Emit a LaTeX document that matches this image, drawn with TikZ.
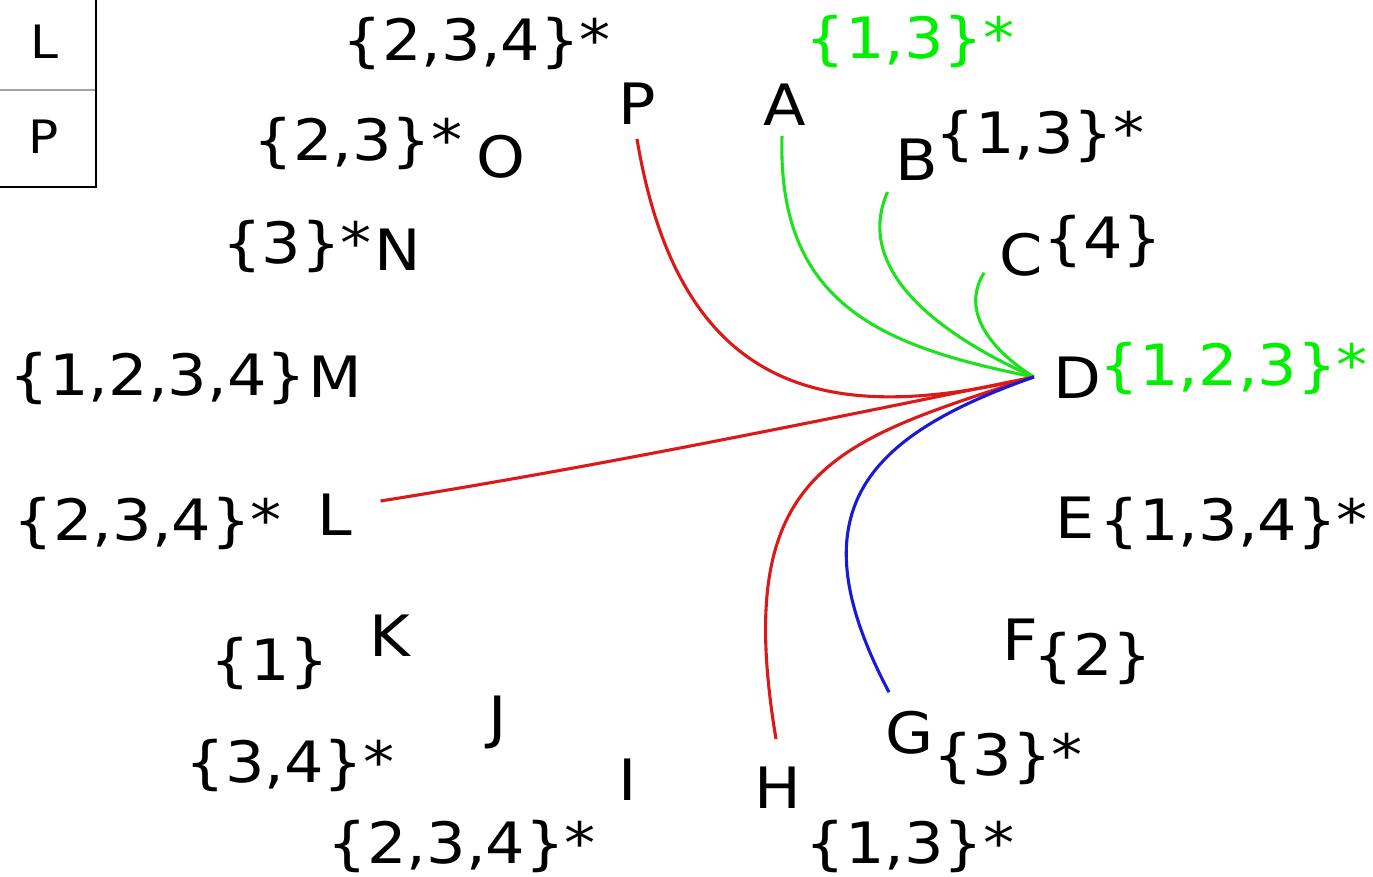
\documentclass[tikz,border=0pt]{standalone}
\usepackage{fontspec}
\setmainfont[FakeStretch=1.09]{DejaVu Sans}
\usetikzlibrary{positioning}
\definecolor{setgreen}{RGB}{0,240,0}
\definecolor{edgegreen}{RGB}{30,225,30}
\definecolor{edgered}{RGB}{220,25,25}
\definecolor{edgeblue}{RGB}{25,25,215}

\begin{document}
\begin{tikzpicture}[
      x=1pt,y=-1pt,
      vertex/.style={font=\fontsize{57}{60}\selectfont,inner sep=0pt},
      setlab/.style={font=\fontsize{57}{60}\selectfont,inner sep=0pt},
      legend/.style={font=\fontsize{46}{48}\selectfont,inner sep=0pt},
      edge/.style={line width=3.1pt}
    ]
    \clip (0,0) rectangle (1373,877);
    \useasboundingbox (0,0) rectangle (1373,877);

    \draw[line width=1.8pt] (-5,-5) rectangle (96,187);
    \draw[gray!70,line width=1.2pt] (0,90) -- (95,90);
    \node[legend] (legL) at (44,42) {L};
    \node[legend] (legP) at (44,137) {P};

    \node[vertex] (A) at (785,105) {A};
    \node[vertex] (B) at (917,160) {B};
    \node[vertex] (C) at (1021,255) {C};
    \node[vertex] (D) at (1077,378) {D};
    \node[vertex] (E) at (1075,518) {E};
    \node[vertex] (F) at (1020,640) {F};
    \node[vertex] (G) at (910,733) {G};
    \node[vertex] (H) at (778,788) {H};
    \node[vertex] (I) at (628,780) {I};
    \node[vertex] (J) at (498,722) {J};
    \node[vertex] (K) at (390,636) {K};
    \node[vertex] (L) at (335,515) {L};
    \node[vertex] (M) at (335,377) {M};
    \node[vertex] (N) at (398,250) {N};
    \node[vertex] (O) at (501,157) {O};
    \node[vertex] (P) at (637,104) {P};

    \node[setlab,text=setgreen] (sA) at (910,41) {\{1,3\}*};
    \node[setlab] (sB) at (1040,136) {\{1,3\}*};
    \node[setlab] (sC) at (1103,241) {\{4\}};
    \node[setlab,text=setgreen] (sD) at (1234,368) {\{1,2,3\}*};
    \node[setlab] (sE) at (1234,523) {\{1,3,4\}*};
    \node[setlab] (sF) at (1093,658) {\{2\}};
    \node[setlab] (sG) at (1008,758) {\{3\}*};
    \node[setlab] (sH) at (910,846) {\{1,3\}*};
    \node[setlab] (sI) at (462,846) {\{2,3,4\}*};
    \node[setlab] (sJ) at (290,765) {\{3,4\}*};
    \node[setlab] (sK) at (270,663) {\{1\}};
    \node[setlab] (sL) at (148,523) {\{2,3,4\}*};
    \node[setlab] (sM) at (158,378) {\{1,2,3,4\}};
    \node[setlab] (sN) at (297,246) {\{3\}*};
    \node[setlab] (sO) at (358,143) {\{2,3\}*};
    \node[setlab] (sP) at (477,43) {\{2,3,4\}*};

    \coordinate (hub) at ([xshift=-19pt,yshift=1pt]D.west);

    \draw[edge,edgered] ([yshift=-14pt]P.south) .. controls +(45,270) and +(-190,45) .. (hub);
    \draw[edge,edgegreen] ([xshift=-3pt,yshift=-10pt]A.south) .. controls +(-5,170) and +(-150,-30) .. (hub);
    \draw[edge,edgegreen] ([xshift=-8pt,yshift=-11pt]B.south west) .. controls +(-35,80) and +(-90,-40) .. (hub);
    \draw[edge,edgegreen] ([xshift=-15pt,yshift=4pt]C.south west) .. controls +(-25,40) and +(-40,-25) .. (hub);
    \draw[edge,edgered] ([xshift=28pt,yshift=14pt]L.east) .. controls +(220,-35) and +(-220,45) .. (hub);
    \draw[edge,edgered] ([xshift=-2pt,yshift=28pt]H.north) .. controls +(-45,-270) and +(-200,65) .. (hub);
    \draw[edge,edgeblue] ([xshift=-21pt,yshift=19pt]G.north) .. controls +(-95,-180) and +(-170,60) .. (hub);
  \end{tikzpicture}
\end{document}
